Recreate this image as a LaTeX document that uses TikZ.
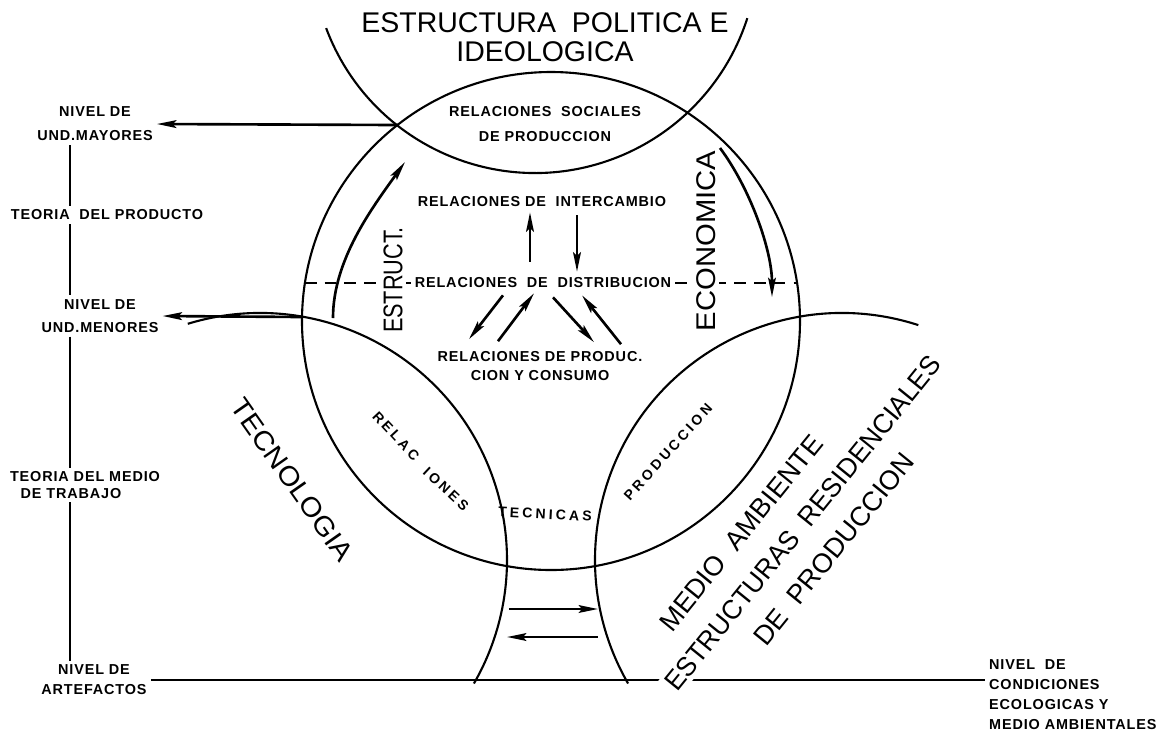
\documentclass[tikz,border=0pt]{standalone}
\usepackage{fontspec}
\setmainfont{Liberation Sans}
\newfontfamily\tagfont[LetterSpace=6]{Liberation Sans}
\newfontfamily\spacedfont[LetterSpace=22]{Liberation Sans}
\usetikzlibrary{arrows.meta, calc}
\tikzset{
  curve/.style={line width=0.6pt},
  arrow/.style={line width=0.75pt, -{Stealth[length=5.5pt, width=2.2pt, inset=1pt]}},
  title/.style={font={\fontsize{7.7pt}{8.25pt}\selectfont}, inner sep=1pt, align=center},
  tag/.style={font={\tagfont\bfseries\fontsize{4.1pt}{#1}\selectfont}, inner sep=1pt, align=center},
  tag/.default=6.6pt,
  spaced/.style={font={\spacedfont\bfseries\fontsize{4pt}{4.5pt}\selectfont}, inner sep=1pt}
}
\begin{document}
\begin{tikzpicture}[x=0.01cm, y=-0.01cm]
  \useasboundingbox (0,0) rectangle (1156,735);

  % circulos
  \draw[curve] ($(535,-50)+(159.5:223)$) arc[start angle=159.5, end angle=17.8, radius=223];
  \draw[curve] (551,321) circle[radius=249];
  \draw[curve] ($(260,560)+(253:247)$) arc[start angle=253, end angle=390, radius=247];
  \draw[curve] ($(842,560)+(288:247)$) arc[start angle=288, end angle=150, radius=247];

  % niveles a la izquierda
  \node[tag=6.8pt] (nmay) at (95,124) {NIVEL DE\\UND.MAYORES};
  \node[tag] (tprod) at (107,215) {TEORIA\ \ DEL PRODUCTO};
  \node[tag=6.5pt] (nmen) at (100,316) {NIVEL DE\\UND.MENORES};
  \node[tag=4.6pt, align=left] (tmed) at (85,485) {TEORIA DEL MEDIO\\\hspace{3pt}DE TRABAJO};
  \node[tag=5.7pt] (nart) at (94,680) {NIVEL DE\\ARTEFACTOS};
  \node[tag=5.7pt, align=left, anchor=north west] (ncond) at (985,655) {NIVEL\ \ DE\\CONDICIONES\\ECOLOGICAS Y\\MEDIO AMBIENTALES};

  \coordinate (axis) at (70,0);
  \draw[curve] (axis |- nmay.south) -- (axis |- tprod.north);
  \draw[curve] (axis |- tprod.south) -- (axis |- nmen.north);
  \draw[curve] (axis |- nmen.south) -- (axis |- tmed.north);
  \draw[curve] (axis |- tmed.south) -- (axis |- nart.north);

  % linea de base y linea de distribucion
  \draw[curve] (nart.east) -- (nart.east -| ncond.west);
  \coordinate (dl) at (305,283);
  \coordinate (dr) at (797,283);

  % textos del centro
  \node[tag=7.1pt] (soc) at (545,124) {RELACIONES\ \ SOCIALES\\DE PRODUCCION};
  \node[tag] (inter) at (542,202) {RELACIONES DE\ \ INTERCAMBIO};
  \node[tag, fill=white] (dist) at (543,283) {RELACIONES\ \ DE\ \ DISTRIBUCION};
  \node[tag=5.4pt] (prod) at (540,366) {RELACIONES DE PRODUC.\\CION Y CONSUMO};
  \draw[curve, dash pattern=on 3.3pt off 2.3pt] (dl) -- (dist.west);
  \draw[curve, dash pattern=on 3.3pt off 2.3pt] (dist.east) -- (dr);

  % textos grandes
  \node[title, font={\fontsize{8.1pt}{8.25pt}\selectfont}] (epol) at (545,37) {ESTRUCTURA\ \ POLITICA E\\IDEOLOGICA};
  \node[title, rotate=90, xscale=0.8, fill=white] (estr) at (393,280) {ESTRUCT.};
  \node[title, rotate=90, xscale=1.08, fill=white] (econ) at (706,241) {ECONOMICA};
  \node[title, rotate=-55, xscale=1.08] (tecno) at (292,480) {TECNOLOGIA};
  \node[title, rotate=51] (medio) at (741,533) {MEDIO\ \ AMBIENTE};
  \node[title, rotate=51, xscale=0.97, fill=white] (esres) at (803,523) {ESTRUCTURAS\ \ RESIDENCIALES};
  \node[title, rotate=51] (depro) at (834,549) {DE\ \ PRODUCCION};

  % relaciones tecnicas de produccion
  \node[spaced, rotate=-47] (relac) at (396,436) {RELAC};
  \node[spaced, rotate=-43] (iones) at (446,489) {IONES};
  \node[spaced, rotate=-3] (tecn) at (545,514) {TECNICAS};
  \node[spaced, rotate=48] (produ) at (668,452) {PRODUCCION};

  % flechas
  \coordinate (mayor) at (398,125);
  \coordinate (menor) at (302,317);
  \draw[arrow] (mayor) -- (nmay.east);
  \draw[arrow] (menor) -- (nmen.east);

  \draw[arrow] ([shift={(-13,-12)}]dist.north) -- ([shift={(-12,1)}]inter.south);
  \draw[arrow] ([shift={(35,4)}]inter.south) -- ([shift={(34,-2)}]dist.north);
  \draw[arrow] ([shift={(-40,3)}]dist.south) -- ([shift={(-71,-8)}]prod.north);
  \draw[arrow] ([shift={(-42,-6)}]prod.north) -- ([shift={(-9,1)}]dist.south);
  \draw[arrow] ([shift={(10,5)}]dist.south) -- ([shift={(54,-5)}]prod.north);
  \draw[arrow] ([shift={(81,-3)}]prod.north) -- ([shift={(39,3)}]dist.south);

  \coordinate (el) at (333,318);
  \coordinate (et) at (405,162);
  \draw[arrow] (el) .. controls (333,260) and (372,208) .. (et);
  \coordinate (ct) at (720,148);
  \coordinate (cb) at (772,297);
  \draw[arrow] (ct) .. controls (750,188) and (772,250) .. (cb);

  \coordinate (n1a) at (509,609);
  \coordinate (n1b) at (598,609);
  \coordinate (n2a) at (598,637);
  \coordinate (n2b) at (507,637);
  \draw[arrow] (n1a) -- (n1b);
  \draw[arrow] (n2a) -- (n2b);
\end{tikzpicture}
\end{document}
